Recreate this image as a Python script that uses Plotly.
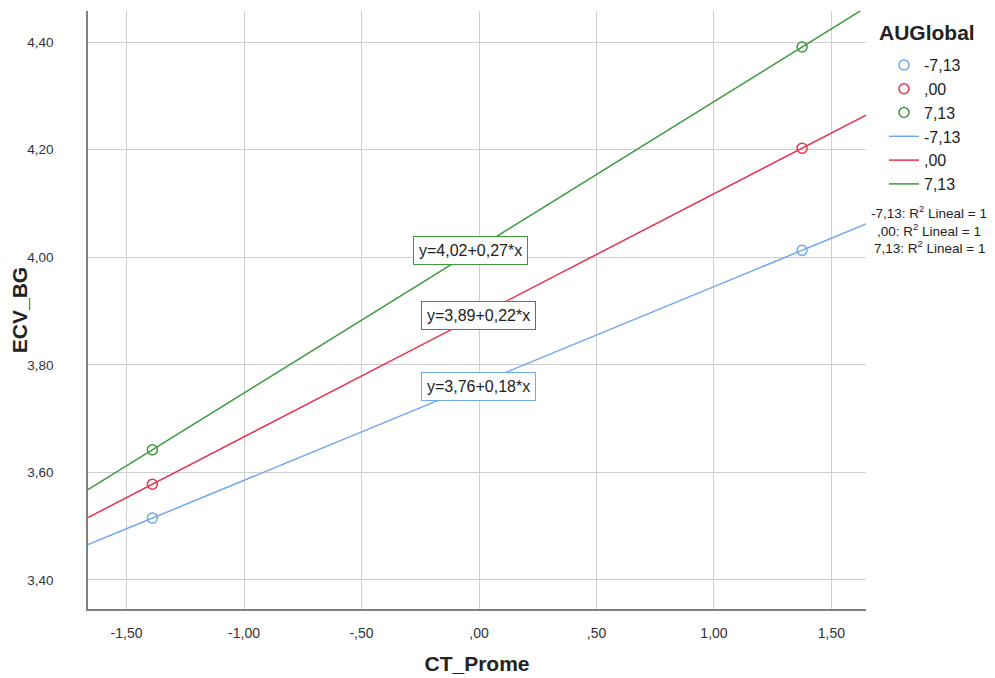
import numpy as np
import plotly.graph_objects as go

groups = ["-7,13", ",00", "7,13"]
colors = ["#6fa8f0", "#e8304f", "#3c9a3c"]
x_points = [-1.39, 1.375]
y_points = {
    "-7,13": [3.515, 4.013],
    ",00": [3.578, 4.203],
    "7,13": [3.642, 4.391],
}
equations = {
    "-7,13": "y=3,76+0,18*x",
    ",00": "y=3,89+0,22*x",
    "7,13": "y=4,02+0,27*x",
}
r2_labels = ["-7,13: R<sup>2</sup> Lineal = 1", ",00: R<sup>2</sup> Lineal = 1", "7,13: R<sup>2</sup> Lineal = 1"]
x_range = [-1.664, 1.647]
y_range = [3.346, 4.458]
x_ticks = [-1.5, -1.0, -0.5, 0.0, 0.5, 1.0, 1.5]
x_ticklabels = ["-1,50", "-1,00", "-,50", ",00", ",50", "1,00", "1,50"]
y_ticks = [3.4, 3.6, 3.8, 4.0, 4.2, 4.4]
y_ticklabels = ["3,40", "3,60", "3,80", "4,00", "4,20", "4,40"]

FONT = "Liberation Sans, Arial, sans-serif"
# plot area in page pixels (body has 8px margin)
PL, PR, PT, PB = 88, 866, 11, 609


def px2paper(px, py):
    return (px - PL) / (PR - PL), (PB - py) / (PB - PT)


fig = go.Figure()
for g, c in zip(groups, colors):
    fig.add_trace(go.Scatter(
        x=x_points, y=y_points[g], mode="markers", name=g,
        marker=dict(symbol="circle-open", size=10, color=c, line=dict(width=1.5, color=c)),
    ))
fits = {}
for g, c in zip(groups, colors):
    slope, intercept = np.polyfit(x_points, y_points[g], 1)
    fits[g] = (slope, intercept)
    xl = np.array(x_range)
    fig.add_trace(go.Scatter(
        x=xl, y=intercept + slope * xl, mode="lines", name=g,
        line=dict(color=c, width=1.5),
    ))

eq_shift = {"-7,13": (-1, -3), ",00": (-1, 0), "7,13": (-9, -3)}
for g, c in zip(groups, colors):
    slope, intercept = fits[g]
    fig.add_annotation(
        x=0, y=intercept, xref="x", yref="y", text=equations[g], showarrow=False,
        xshift=eq_shift[g][0], yshift=eq_shift[g][1],
        font=dict(family=FONT, size=16, color="#222"),
        bgcolor="white", bordercolor=c, borderwidth=1, borderpad=5,
    )

for i, t in enumerate(r2_labels):
    ax, ay = px2paper(929, 212 + 17.5 * i)
    fig.add_annotation(
        x=ax, y=ay, xref="paper", yref="paper", text=t, showarrow=False,
        xanchor="center", yanchor="middle",
        font=dict(family=FONT, size=13.5, color="#222"),
    )

tx, ty = px2paper(877, 33)
fig.add_annotation(
    x=tx, y=ty, xref="paper", yref="paper", text="<b>AUGlobal</b>", showarrow=False,
    xanchor="left", yanchor="middle",
    font=dict(family=FONT, size=21, color="#222"),
)

lx, ly = px2paper(884, 48)
fig.update_layout(
    width=987, height=670,
    margin=dict(l=80, r=129, t=3, b=69),
    plot_bgcolor="white", paper_bgcolor="white",
    font=dict(family=FONT, color="#222"),
    legend=dict(
        font=dict(size=16, color="#222"),
        x=lx, y=ly, xanchor="left", yanchor="top",
        tracegroupgap=0, itemwidth=30, bgcolor="rgba(0,0,0,0)",
    ),
    xaxis=dict(
        range=x_range, tickvals=x_ticks, ticktext=x_ticklabels,
        showgrid=True, gridcolor="#cfcfcf", gridwidth=1,
        showline=True, linecolor="#808080", linewidth=1.5, zeroline=False,
        tickfont=dict(size=14, color="#333"), ticks="", ticklabelstandoff=10,
        automargin=False,
        title=dict(text="<b>CT_Prome</b>", font=dict(size=21, color="#222"), standoff=17),
    ),
    yaxis=dict(
        range=y_range, tickvals=y_ticks, ticktext=y_ticklabels,
        showgrid=True, gridcolor="#cfcfcf", gridwidth=1,
        showline=True, linecolor="#808080", linewidth=1.5, zeroline=False,
        tickfont=dict(size=13.5, color="#333"), ticks="", ticklabelstandoff=30,
        automargin=False,
        title=dict(text="<b>ECV_BG</b>", font=dict(size=21, color="#222"), standoff=5),
    ),
)
fig.write_html("out.html")
